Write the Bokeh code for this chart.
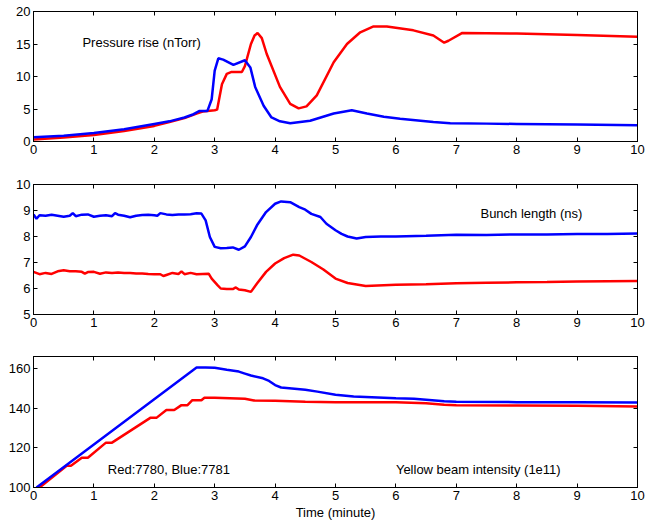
from bokeh.plotting import figure
from bokeh.layouts import column
from bokeh.models import Range1d, LinearAxis, FixedTicker, Label
from bokeh.embed import file_html
from bokeh.resources import INLINE

# ---- data: time in minutes ----
# Pressure rise (nTorr)
p_red_t = [0, 0.5, 1, 1.5, 2, 2.25, 2.5, 2.7, 2.8, 3.0, 3.04, 3.12, 3.2, 3.28, 3.45, 3.5, 3.6, 3.66,
           3.71, 3.78, 3.86, 4.08, 4.25, 4.39, 4.52, 4.69, 4.97, 5.19, 5.41, 5.63, 5.85, 6.29, 6.62,
           6.8, 6.87, 7.1, 8, 9, 10]
p_red_v = [0.3, 0.6, 1.0, 1.6, 2.4, 3.0, 3.6, 4.3, 4.6, 4.8, 4.9, 8.8, 10.4, 10.7, 10.7, 11.6, 15.0, 16.3,
           16.7, 15.9, 13.5, 8.4, 5.8, 5.1, 5.4, 7.1, 12.2, 15.0, 16.8, 17.7, 17.7, 17.1, 16.3,
           15.2, 15.5, 16.7, 16.6, 16.4, 16.1]
p_blue_t = [0, 0.5, 1, 1.5, 2, 2.25, 2.5, 2.65, 2.75, 2.88, 2.95, 3.0, 3.06, 3.14, 3.31, 3.5, 3.59,
            3.67, 3.81, 3.94, 4.08, 4.25, 4.58, 4.97, 5.27, 5.52, 5.8, 6.07, 6.62, 6.9, 7.5, 8, 9, 10]
p_blue_v = [0.67, 0.9, 1.3, 1.9, 2.7, 3.1, 3.7, 4.2, 4.7, 4.7, 6.5, 10.9, 12.8, 12.6, 11.8, 12.5, 11.4,
            8.4, 5.5, 3.7, 3.1, 2.8, 3.2, 4.3, 4.8, 4.3, 3.8, 3.5, 3.0, 2.8, 2.75, 2.7, 2.6, 2.5]

# Bunch length (ns)
b_blue_t = [0, 0.05, 0.1, 0.2, 0.3, 0.4, 0.5, 0.6, 0.65, 0.7, 0.8, 0.9, 1.0, 1.1, 1.2, 1.3, 1.35, 1.4,
            1.5, 1.6, 1.7, 1.8, 1.9, 2.0, 2.05, 2.1, 2.2, 2.3, 2.4, 2.5, 2.6, 2.7, 2.78, 2.85, 2.92,
            3.0, 3.1, 3.2, 3.3, 3.4, 3.5, 3.6, 3.7, 3.85, 4.0, 4.1, 4.25, 4.4, 4.5, 4.6, 4.75, 4.85,
            5.0, 5.1, 5.2, 5.35, 5.5, 5.75, 6.0, 6.5, 7, 7.5, 8, 8.5, 9, 9.5, 10]
b_blue_v = [8.85, 8.68, 8.82, 8.8, 8.84, 8.8, 8.76, 8.8, 8.9, 8.78, 8.84, 8.85, 8.76, 8.8, 8.82, 8.78,
            8.9, 8.84, 8.8, 8.74, 8.8, 8.83, 8.84, 8.82, 8.8, 8.9, 8.85, 8.83, 8.85, 8.85, 8.86, 8.89,
            8.88, 8.62, 7.98, 7.6, 7.55, 7.56, 7.58, 7.49, 7.62, 7.98, 8.43, 8.94, 9.26, 9.35, 9.32,
            9.13, 9.03, 8.87, 8.75, 8.49, 8.24, 8.1, 8.0, 7.92, 7.98, 8.0, 8.0, 8.03, 8.07, 8.06, 8.08,
            8.08, 8.1, 8.1, 8.12]
b_red_t = [0, 0.1, 0.2, 0.3, 0.4, 0.5, 0.6, 0.7, 0.8, 0.85, 0.9, 1.0, 1.1, 1.2, 1.3, 1.4, 1.5, 1.6,
           1.7, 1.8, 1.9, 2.0, 2.1, 2.15, 2.2, 2.3, 2.4, 2.45, 2.5, 2.6, 2.7, 2.8, 2.9, 2.95, 3.05,
           3.1, 3.2, 3.3, 3.35, 3.4, 3.5, 3.6, 3.7, 3.85, 4.0, 4.15, 4.3, 4.4, 4.6, 4.8, 5.0, 5.2,
           5.5, 6.0, 6.5, 7, 7.5, 8, 8.5, 9, 9.5, 10]
b_red_v = [6.64, 6.55, 6.6, 6.56, 6.66, 6.7, 6.66, 6.66, 6.64, 6.57, 6.63, 6.64, 6.57, 6.62, 6.6, 6.62,
           6.6, 6.6, 6.58, 6.58, 6.56, 6.55, 6.55, 6.48, 6.52, 6.6, 6.56, 6.66, 6.55, 6.6, 6.55, 6.56,
           6.57, 6.38, 6.12, 6.0, 5.98, 5.98, 6.04, 5.96, 5.93, 5.87, 6.19, 6.64, 6.96, 7.17, 7.3,
           7.27, 7.02, 6.73, 6.38, 6.21, 6.1, 6.14, 6.16, 6.2, 6.22, 6.24, 6.25, 6.27, 6.28, 6.29]

# Yellow beam intensity (1e11)
i_blue_t = [0.05, 2.7, 2.85, 3.0, 3.2, 3.4, 3.5, 3.6, 3.8, 3.9, 4.0, 4.1, 4.5, 4.7, 5.0, 5.3, 6.0,
            6.3, 6.5, 6.8, 7, 8, 9, 10]
i_blue_v = [100, 160.5, 160.5, 160.3, 159.3, 158.4, 157.4, 156.4, 155, 153.7, 151.6, 150.4, 149.3,
            148.3, 146.7, 145.8, 145, 144.7, 144.2, 143.4, 143.2, 143, 142.9, 142.8]
i_red_t = [0.1, 0.55, 0.62, 0.8, 0.9, 1.2, 1.3, 1.94, 2.04, 2.2, 2.33, 2.45, 2.55, 2.63, 2.78, 2.83,
           3.0, 3.5, 3.65, 4.0, 4.5, 5.0, 6.0, 6.5, 6.8, 7, 8, 9, 10]
i_red_v = [100, 111, 111, 115, 115, 122.6, 122.6, 135.2, 135.2, 139, 139, 141.5, 141.5, 144, 144,
           145.2, 145.2, 144.7, 143.8, 143.7, 143.2, 143, 143, 142.5, 141.7, 141.4, 141.3, 141.2, 140.8]

x_ticks = list(range(0, 11))
FONT = "Liberation Sans"
RED = "#ff0000"
BLUE = "#0000ff"


def style_axis(ax, ticks, show_labels=True):
    ax.ticker = FixedTicker(ticks=ticks)
    ax.major_tick_in = 4
    ax.major_tick_out = 0
    ax.minor_tick_line_color = None
    ax.axis_line_color = "black"
    ax.major_tick_line_color = "black"
    ax.major_label_text_font = FONT
    if show_labels:
        ax.major_label_text_color = "black"
        ax.major_label_text_font_size = "13px"
        ax.major_label_standoff = 3
    else:
        # tick marks only on the mirrored sides of the box
        ax.major_label_text_color = None
        ax.major_label_text_font_size = "1px"
        ax.major_label_standoff = 0


def panel(height, top, bottom, yr, yticks):
    p = figure(width=645, height=height, x_range=Range1d(0, 10), y_range=Range1d(*yr),
               output_backend="svg", toolbar_location=None,
               min_border_left=33, min_border_right=8,
               min_border_top=top, min_border_bottom=bottom)
    p.xgrid.visible = False
    p.ygrid.visible = False
    p.outline_line_color = "black"
    p.outline_line_width = 1
    style_axis(p.below[0], x_ticks)
    style_axis(p.left[0], yticks)
    top_ax = LinearAxis()
    style_axis(top_ax, x_ticks, show_labels=False)
    p.add_layout(top_ax, "above")
    right_ax = LinearAxis()
    style_axis(right_ax, yticks, show_labels=False)
    p.add_layout(right_ax, "right")
    return p


def note(p, x, y, text):
    p.add_layout(Label(x=x, y=y, text=text, text_font=FONT, text_font_size="13px",
                       text_color="black", text_baseline="middle", text_align="left"))


# Pressure panel
p1 = panel(163, 11, 22, (0, 20), [0, 5, 10, 15, 20])
p1.line(p_red_t, p_red_v, line_color=RED, line_width=2.5)
p1.line(p_blue_t, p_blue_v, line_color=BLUE, line_width=2.5)
note(p1, 0.81, 15.2, "Pressure rise (nTorr)")

# Bunch length panel
p2 = panel(173, 21, 22, (5, 10), [5, 6, 7, 8, 9, 10])
p2.line(b_red_t, b_red_v, line_color=RED, line_width=2.5)
p2.line(b_blue_t, b_blue_v, line_color=BLUE, line_width=2.5)
note(p2, 7.4, 8.87, "Bunch length (ns)")

# Intensity panel
p3 = panel(191, 20, 40, (100, 166), [100, 120, 140, 160])
p3.line(i_red_t, i_red_v, line_color=RED, line_width=2.5)
p3.line(i_blue_t, i_blue_v, line_color=BLUE, line_width=2.5)
note(p3, 1.23, 109.1, "Red:7780, Blue:7781")
note(p3, 6.0, 109.1, "Yellow beam intensity (1e11)")
bottom_axis = p3.below[0]
bottom_axis.axis_label = "Time (minute)"
bottom_axis.axis_label_text_font = FONT
bottom_axis.axis_label_text_font_size = "13px"
bottom_axis.axis_label_text_font_style = "normal"
bottom_axis.axis_label_text_color = "black"
bottom_axis.axis_label_standoff = 2

layout = column(p1, p2, p3, spacing=0)

with open("out.html", "w") as f:
    f.write(file_html(layout, INLINE))
